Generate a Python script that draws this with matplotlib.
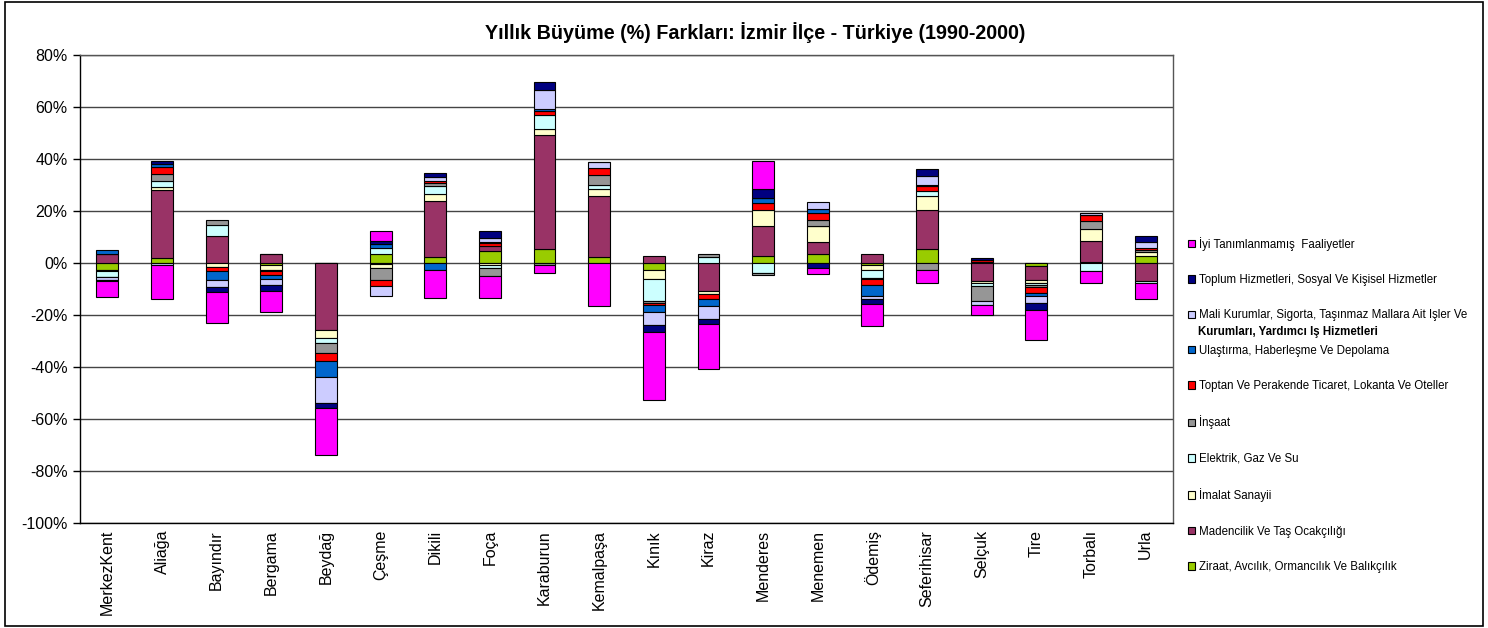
import matplotlib
matplotlib.use("Agg")
import matplotlib.pyplot as plt
import numpy as np
from matplotlib.patches import Rectangle

plt.rcParams['font.family'] = ['Liberation Sans', 'DejaVu Sans']

categories = ["MerkezKent", "Aliağa", "Bayındır", "Bergama", "Beydağ", "Çeşme", "Dikili",
              "Foça", "Karaburun", "Kemalpaşa", "Kınık", "Kiraz", "Menderes", "Menemen",
              "Ödemiş", "Seferihisar", "Selçuk", "Tire", "Torbalı", "Urla"]

# series in stacking order (first = bottom)
ziraat     = [-2.6, 2.1, 0.0, -0.8, 0.0, 3.6, 2.3, 4.5, 5.5, 2.2, -2.8, 0.0, 2.6, 3.3, -0.6, 5.5, 0.5, -1.0, 0.3, 2.8]
madencilik = [3.5, 25.9, 10.4, 3.6, -25.6, -0.5, 21.4, 1.9, 43.6, 23.5, 2.6, -10.9, 11.8, 4.6, 3.5, 14.7, -6.8, -5.4, 8.0, -7.1]
imalat     = [-0.4, 1.4, -1.7, -1.8, -3.2, -1.6, 2.9, -0.6, 2.4, 2.9, -3.3, -0.9, 5.9, 6.4, -1.9, 5.6, -1.0, -1.4, 4.7, 1.5]
elektrik   = [-2.2, 2.2, 4.1, 0.0, -1.9, 2.2, 3.2, -1.3, 5.3, 1.5, -8.6, 2.4, -3.7, 0.0, -3.3, 1.8, -1.2, -0.5, -2.9, -0.6]
insaat     = [-0.3, 2.7, 2.1, -0.6, -3.8, -4.3, 1.0, -3.2, -0.6, 3.6, -0.6, 1.2, -1.0, 2.1, -0.5, -2.8, -5.8, -1.0, 3.3, 0.6]
toptan     = [0.0, 2.6, -1.4, -1.5, -3.2, -2.3, 0.6, 1.3, 1.5, 2.8, -1.0, -2.1, 2.8, 2.8, -2.1, 2.1, 0.5, -2.3, 2.0, 0.8]
ulastirma  = [1.4, 1.2, -3.5, -1.3, -6.0, 1.5, -2.8, 0.3, 0.9, 0.0, -2.7, -2.6, 1.9, 1.5, -4.1, 0.3, 0.0, -1.0, 0.0, 0.0]
mali       = [-0.9, -0.9, -2.8, -2.5, -10.3, -3.9, 1.7, 1.5, 7.2, 2.3, -4.9, -5.1, 0.0, 2.6, -1.3, 3.5, -1.4, -2.8, 1.0, 2.2]
toplum     = [-0.4, 1.3, -1.7, -2.1, -1.9, 1.2, 1.7, 2.9, 3.1, 0.0, -2.6, -1.9, 3.5, -2.0, -1.8, 2.6, 1.0, -2.6, 0.0, 2.6]
iyi        = [-6.3, -13.0, -12.0, -8.2, -17.9, 3.7, -10.6, -8.5, -3.4, -16.7, -26.0, -17.1, 10.6, -2.2, -8.5, -4.9, -3.8, -11.7, -4.7, -6.2]

series_names = ["Ziraat, Avcılık, Ormancılık Ve Balıkçılık",
                "Madencilik Ve Taş Ocakçılığı",
                "İmalat Sanayii",
                "Elektrik, Gaz Ve Su",
                "İnşaat",
                "Toptan Ve Perakende Ticaret, Lokanta Ve Oteller",
                "Ulaştırma, Haberleşme Ve Depolama",
                "Mali Kurumlar, Sigorta, Taşınmaz Mallara Ait Işler Ve",
                "Toplum Hizmetleri, Sosyal Ve Kişisel Hizmetler",
                "İyi Tanımlanmamış  Faaliyetler"]
series_values = [ziraat, madencilik, imalat, elektrik, insaat, toptan, ulastirma, mali, toplum, iyi]
colors = ["#99CC00", "#993366", "#FFFFCC", "#CCFFFF", "#969696",
          "#FF0000", "#0066CC", "#CCCCFF", "#000080", "#FF00FF"]

yticks = [80, 60, 40, 20, 0, -20, -40, -60, -80, -100]

fig = plt.figure(figsize=(14.88, 6.28), dpi=100)
ax = fig.add_axes([80/1488, 1-523/628, (1173-80)/1488, (523-55)/628])

x = np.arange(len(categories))
pos_base = np.zeros(len(categories))
neg_base = np.zeros(len(categories))
handles = []
for name, vals, c in zip(series_names, series_values, colors):
    v = np.array(vals, dtype=float)
    bottoms = np.where(v >= 0, pos_base, neg_base)
    h = ax.bar(x, v, width=0.4, bottom=bottoms, color=c, edgecolor="black",
               linewidth=0.8, label=name, zorder=3)
    handles.append(h)
    pos_base = pos_base + np.where(v > 0, v, 0)
    neg_base = neg_base + np.where(v < 0, v, 0)

ax.set_xlim(-0.5, len(categories) - 0.5)
ax.set_ylim(-100, 80)
ax.set_yticks(yticks)
ax.set_yticklabels([f"{t}%" for t in yticks], fontsize=11.5)
ax.set_xticks(x)
ax.set_xticklabels(categories, rotation=90, fontsize=11.5)
ax.tick_params(axis='x', length=0, pad=5)
ax.tick_params(axis='y', length=5, width=1, direction='out', pad=4)
ax.yaxis.grid(True, color="#444444", linewidth=1.0, zorder=0)
for s in ax.spines.values():
    s.set_color("#555555")
    s.set_linewidth(1.0)
ax.spines['left'].set_color("black")
ax.spines['bottom'].set_color("black")

fig.text(755/1488, 1-33/628, "Yıllık Büyüme (%) Farkları: İzmir İlçe - Türkiye (1990-2000)",
         ha="center", va="center", fontsize=14.2, fontweight="bold")

leg = fig.legend(handles[::-1], series_names[::-1], loc="upper left",
                 bbox_to_anchor=(1183/1488, 1-232/628), frameon=False,
                 fontsize=8.3, handlelength=0.62, handleheight=0.62,
                 handletextpad=0.4, labelspacing=2.03, borderaxespad=0)

fig.text(1198/1488, 1-332/628, "Kurumları, Yardımcı Iş Hizmetleri",
         ha="left", va="center", fontsize=8.3, fontweight="bold")

fig.patches.append(Rectangle((5/1488, 1-626/628), 1478/1488, 624/628,
                             transform=fig.transFigure, fill=False,
                             edgecolor="black", linewidth=1.2))

fig.savefig("out.png", dpi=100)
